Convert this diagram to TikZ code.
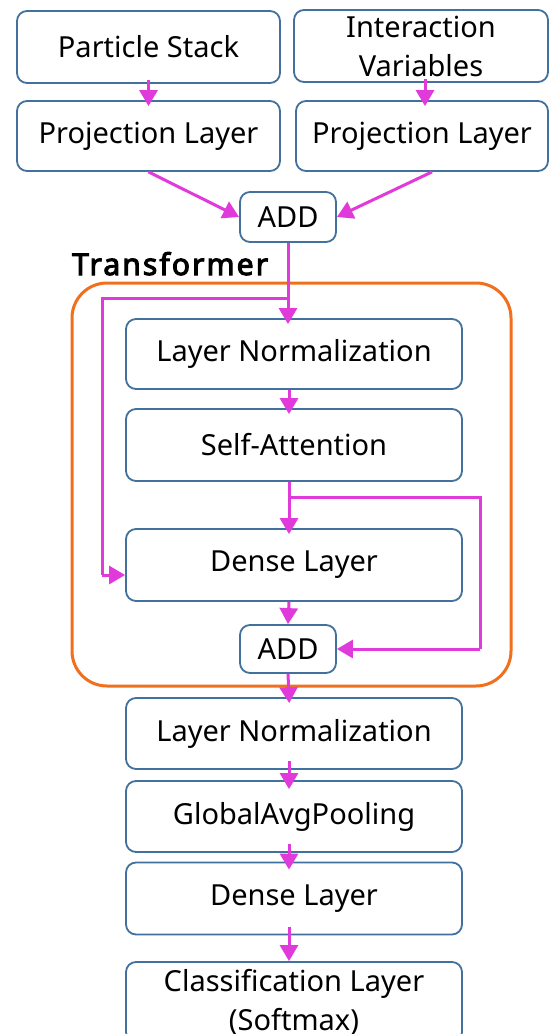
\documentclass[tikz,border=0pt]{standalone}
\usepackage{fontspec}
\setmainfont{Noto Sans}
\newfontfamily\tboldfont{Noto Sans}[FakeBold=3.5,LetterSpace=7]
\usetikzlibrary{arrows.meta,calc}
\definecolor{boxblue}{HTML}{41719C}
\definecolor{mag}{HTML}{E03BDA}
\definecolor{org}{HTML}{F0701E}
\begin{document}
\begin{tikzpicture}[x=1pt,y=-1pt,
  box/.style={draw=boxblue, line width=1.8pt, rounded corners=10pt, fill=white,
    font=\fontsize{29}{39}\selectfont, align=center, inner sep=0pt},
  arr/.style={draw=mag, line width=3pt, -{Triangle[width=18pt,length=16pt]}, shorten >=-6pt},
  ln/.style={draw=mag, line width=3pt}]
\useasboundingbox[fill=white] (0,0) rectangle (550,1034);

% inputs
\node[box, minimum width=263pt, minimum height=72pt] (ps) at (148.5,47) {Particle Stack};
\node[box, minimum width=254pt, minimum height=72pt] (iv) at (421,46) {Interaction\\Variables};
\node[box, minimum width=263pt, minimum height=70pt] (pl1) at (148.5,136) {Projection Layer};
\node[box, minimum width=252pt, minimum height=70pt] (pl2) at (422,136) {Projection Layer};
\node[box, minimum width=96pt, minimum height=50pt] (add1) at (288,217) {ADD};

% transformer block
\node[anchor=base west, inner sep=0pt, font=\fontsize{30}{34}\tboldfont] (tlabel) at (72,275) {Transformer};
\node[draw=org, line width=3pt, rounded corners=35pt, minimum width=439pt, minimum height=403pt, inner sep=0pt] (tblock) at (291.5,484.5) {};

\node[box, minimum width=336pt, minimum height=70pt] (ln1) at (294,354) {Layer Normalization};
\node[box, minimum width=336pt, minimum height=72pt] (sa) at (294,445) {Self-Attention};
\node[box, minimum width=336pt, minimum height=72pt] (dl) at (294,565) {Dense Layer};
\node[box, minimum width=96pt, minimum height=48pt] (add2) at (288,649) {ADD};

% head
\node[box, minimum width=336pt, minimum height=71pt] (ln2) at (294,733.5) {Layer Normalization};
\node[box, minimum width=336pt, minimum height=71pt] (gap) at (294,816.5) {GlobalAvgPooling};
\node[box, minimum width=336pt, minimum height=72pt] (dl2) at (294,898.5) {Dense Layer};
\node[box, minimum width=336pt, minimum height=80pt] (cl) at (294,1002) {Classification Layer\\(Softmax)};

\coordinate (axis) at (289,0);
\coordinate (sk1) at (102,298);
\coordinate (sk2) at (102,575);
\coordinate (sk3) at (480,497);
\coordinate (sk4) at (480,649);

% connectors
\draw[arr] ($(ps.south)+(0,-4)$) -- (pl1.north);
\draw[arr] ($(iv.south)+(4,-4)$) -- ($(pl2.north)+(3,0)$);
\draw[arr, shorten >=0pt] ($(pl1.south)+(0,0)$) -- (add1.west);
\draw[arr, shorten >=0pt] ($(pl2.south)+(10,0)$) -- (add1.east);
\draw[arr] (add1.south) -- (ln1.north -| add1.south);
\draw[ln] (sk1 -| add1.south) -- (sk1) -- (sk2);
\draw[arr, shorten >=0pt] (sk2) -- (dl.west |- sk2);
\draw[arr] (ln1.south -| axis) -- (sa.north -| axis);
\draw[arr] (sa.south -| axis) -- (dl.north -| axis);
\draw[ln] (sk3 -| axis) -- (sk3) -- (sk4);
\draw[arr, shorten >=0pt] (sk4) -- (add2.east);
\draw[arr, shorten >=0pt] (dl.south -| axis) -- (add2.north);
\draw[arr] (add2.south) -- (ln2.north -| axis);
\draw[arr, shorten >=0pt] ($(ln2.south -| axis)+(0,-9)$) -- ($(gap.north -| axis)+(0,9)$);
\draw[arr, shorten >=0pt] ($(gap.south -| axis)+(0,-9)$) -- ($(dl2.north -| axis)+(0,8)$);
\draw[arr, shorten >=0pt] ($(dl2.south -| axis)+(0,-8)$) -- (cl.north -| axis);
\end{tikzpicture}
\end{document}
